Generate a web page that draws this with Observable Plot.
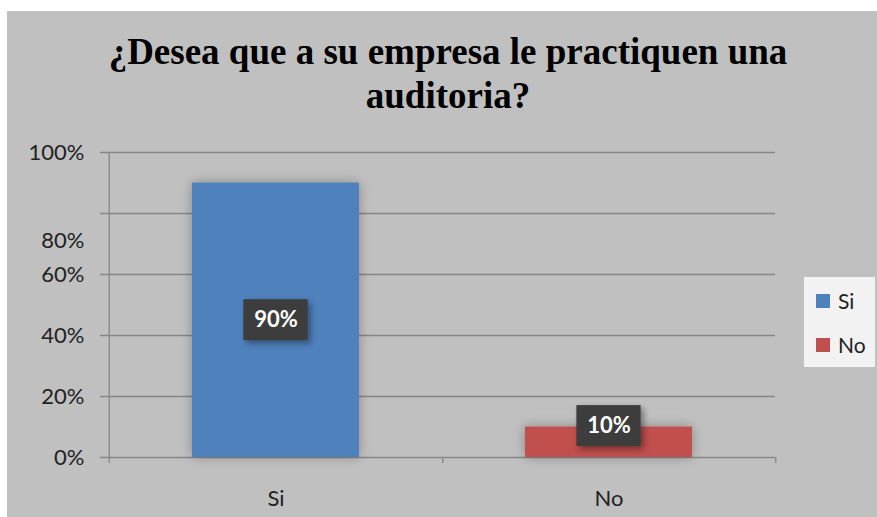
<!DOCTYPE html>
<html>
<head>
<meta charset="utf-8">
<script src="https://cdn.jsdelivr.net/npm/d3@7"></script>
<script src="https://cdn.jsdelivr.net/npm/@observablehq/plot@0.6"></script>
<style>
  html, body { margin: 0; padding: 0; background: #ffffff; }
  #wrap { position: relative; width: 877px; height: 517px; overflow: hidden; background: #ffffff; }
  #panel { position: absolute; left: 7px; top: 11px; width: 870px; height: 506px; background: #c0c0c0; }
  #chart { position: absolute; left: 7px; top: 11px; }
  #title { position: absolute; left: 8px; width: 880px; top: 30px; text-align: center;
    font-family: "Liberation Serif", "Times New Roman", serif; font-weight: bold; font-size: 37px;
    line-height: 44px; color: #000; }
  #legend { position: absolute; left: 804px; top: 277px; width: 71px; height: 90px; background: #f2f2f2;
    font-family: Lato, "Open Sans", sans-serif; font-size: 21px; color: #222; }
  .li { position: absolute; left: 12px; display: flex; align-items: center; }
  .sw { width: 14px; height: 14px; margin-right: 8px; }
</style>
</head>
<body>
<div id="wrap">
  <div id="panel"></div>
  <div id="chart"></div>
  <div id="title"></div>
  <div id="legend"></div>
</div>
<script>
const titleLines = ["¿Desea que a su empresa le practiquen una", "auditoria?"];
const categories = ["Si", "No"];
const values = [90, 10];
const colors = ["#4f81bd", "#c0504d"];
const yTicks = [0, 20, 40, 60, 80, 100];
const yTickLabels = ["0%", "20%", "40%", "60%", "80%", "100%"];

const data = categories.map((c, i) => ({category: c, value: values[i], label: values[i] + "%"}));
const ticks = yTicks.map((v, i) => ({value: v, label: yTickLabels[i]}));

const W = 870, H = 506, ML = 101, MR = 102, MT = 141, MB = 60;
const step = (W - ML - MR) / categories.length;
const bandwidth = step * 0.5;
const boxW = 64;
const gridColor = "#868686";
const labelY = d => Math.max(d.value / 2, 10.3);

document.getElementById("title").innerHTML = titleLines.join("<br>");

const plot = Plot.plot({
  width: W, height: H,
  marginLeft: ML, marginRight: MR, marginTop: MT, marginBottom: MB,
  style: {background: "#c0c0c0", fontFamily: "Lato, 'Open Sans', sans-serif", color: "#222"},
  x: {domain: categories, paddingInner: 0.5, paddingOuter: 0.25, axis: null},
  y: {domain: [0, 100], axis: null},
  color: {domain: categories, range: colors},
  marks: [
    Plot.ruleY(ticks, {y: "value", stroke: gridColor, strokeWidth: 1.3, insetLeft: -8}),
    Plot.ruleX([categories[0]], {x: d => d, dx: -step / 2, y1: -2, y2: 100, stroke: gridColor, strokeWidth: 1.3}),
    Plot.ruleX(categories, {x: d => d, dx: step / 2, y1: -2, y2: 0, stroke: gridColor, strokeWidth: 1.3}),
    Plot.barY(data, {x: "category", y: "value", fill: "category"}),
    Plot.barY(data, {x: "category", y1: labelY, y2: labelY, insetTop: -20.5, insetBottom: -20.5,
      insetLeft: (bandwidth - boxW) / 2, insetRight: (bandwidth - boxW) / 2, fill: "#3c3c3c"}),
    Plot.text(data, {x: "category", y: labelY, text: "label", fill: "#ffffff", fontWeight: "bold", fontSize: 22}),
    Plot.text(ticks.filter(t => t.value !== 80), {y: "value", text: "label", frameAnchor: "left", dx: -24,
      textAnchor: "end", fontSize: 22, fill: "#222"}),
    Plot.text(ticks.filter(t => t.value === 80), {y: "value", text: "label", frameAnchor: "left", dx: -24, dy: 27,
      textAnchor: "end", fontSize: 22, fill: "#222"}),
    Plot.text(categories, {x: d => d, frameAnchor: "bottom", dy: 48, text: d => d, fontSize: 22, fill: "#222"})
  ]
});

// drop shadow filter for bars and label boxes
const svg = d3.select(plot);
const defs = svg.insert("defs", ":first-child");
const f = defs.append("filter").attr("id", "sh").attr("x", "-30%").attr("y", "-30%").attr("width", "160%").attr("height", "160%");
f.append("feDropShadow").attr("dx", 0).attr("dy", 0).attr("stdDeviation", 6).attr("flood-color", "#000").attr("flood-opacity", 0.3);
const f2 = defs.append("filter").attr("id", "sh2").attr("x", "-30%").attr("y", "-30%").attr("width", "160%").attr("height", "160%");
f2.append("feDropShadow").attr("dx", 3).attr("dy", 3).attr("stdDeviation", 3).attr("flood-color", "#000").attr("flood-opacity", 0.4);
const barGroups = plot.querySelectorAll("g[aria-label='bar']");
if (barGroups[0]) barGroups[0].setAttribute("filter", "url(#sh)");
if (barGroups[1]) barGroups[1].setAttribute("filter", "url(#sh2)");

document.getElementById("chart").appendChild(plot);

const legend = document.getElementById("legend");
categories.forEach((c, i) => {
  const item = document.createElement("div");
  item.className = "li";
  item.style.top = (11 + i * 44) + "px";
  item.innerHTML = `<span class="sw" style="background:${colors[i]}"></span><span>${c}</span>`;
  legend.appendChild(item);
});
</script>
</body>
</html>
